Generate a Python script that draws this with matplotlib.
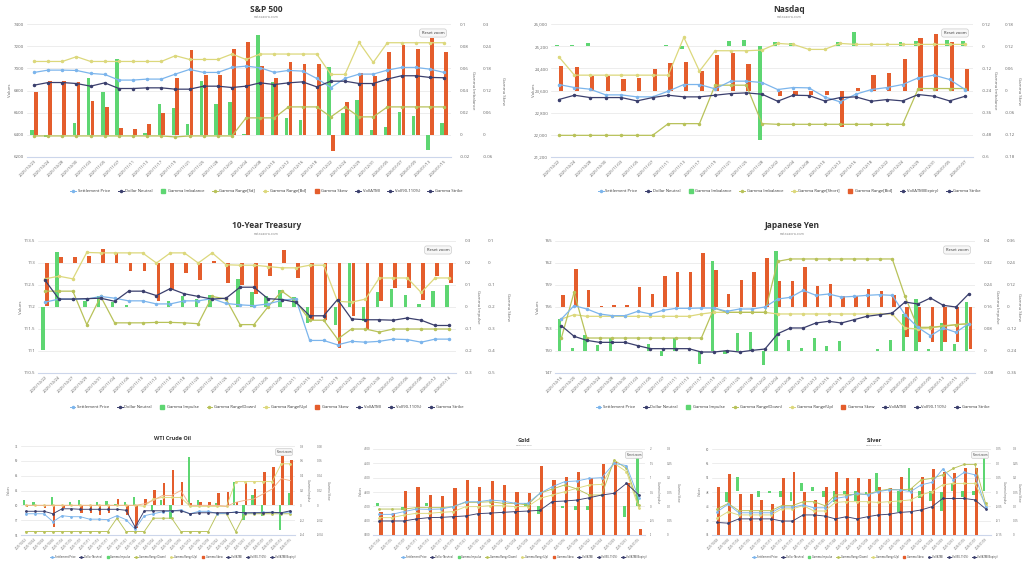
import matplotlib
matplotlib.use("Agg")
import matplotlib.pyplot as plt
import numpy as np
from matplotlib.lines import Line2D

plt.rcParams["font.family"] = ["Open Sans", "DejaVu Sans"]

W, H = 1024, 565

C_SETTLE = "#7cb5ec"
C_DOLLAR = "#3b3f6d"
C_IMB = "#5ed672"
C_SKEW = "#e45d2c"
C_RNG_A = "#b8c25a"
C_RNG_B = "#dcd87c"
C_VOL = "#f3b48a"
C_TXT = "#666666"
C_GRID = "#e6e6e6"

# ---------------- S&P 500 ----------------
SP_DATES = ("2025/10/23 2025/10/24 2025/10/28 2025/10/30 2025/11/03 2025/11/05 2025/11/07 "
            "2025/11/11 2025/11/13 2025/11/17 2025/11/19 2025/11/21 2025/11/25 2025/11/28 "
            "2025/12/02 2025/12/04 2025/12/08 2025/12/10 2025/12/12 2025/12/16 2025/12/18 "
            "2025/12/22 2025/12/24 2025/12/29 2025/12/31 2026/01/05 2026/01/07 2026/01/09 "
            "2026/01/13 2026/01/15").split()
SP_YTICKS = [6200, 6400, 6600, 6800, 7000, 7200, 7400]
SP_IMB_TICKS = [-0.02, 0, 0.02, 0.04, 0.06, 0.08, 0.1]
SP_SKEW_TICKS = [-0.06, 0, 0.06, 0.12, 0.18, 0.24, 0.3]
SP_SETTLE = [6963, 6984, 6984, 6981, 6954, 6945, 6894, 6894, 6903, 6903,
             6948, 6990, 6963, 6963, 7008, 7020, 7005, 6963, 6981, 6975,
             6909, 6827, 6909, 6948, 6948, 6984, 7008, 7008, 6993, 6963]
SP_DOLLAR = [6848, 6872, 6872, 6863, 6839, 6869, 6818, 6818, 6824, 6824,
             6812, 6812, 6839, 6839, 6827, 6839, 6869, 6854, 6869, 6878,
             6833, 6884, 6884, 6863, 6863, 6903, 6933, 6933, 6918, 6915]
SP_RANGE_HI = [7062, 7062, 7062, 7105, 7062, 7062, 7062, 7062, 7062, 7062,
               7114, 7080, 7080, 7080, 7129, 7080, 7129, 7129, 7129, 7129,
               7129, 6945, 6945, 7234, 7053, 7231, 7231, 7231, 7231, 7231]
SP_RANGE_LO = [6390, 6390, 6390, 6390, 6390, 6390, 6390, 6390, 6390, 6390,
               6381, 6390, 6390, 6390, 6390, 6553, 6553, 6553, 6652, 6652,
               6652, 6562, 6652, 6562, 6562, 6652, 6652, 6652, 6652, 6652]
SP_IMB = [0.004, -0.002, 0, 0.011, 0.051, 0.039, 0.068, 0, 0.002, 0.028,
          0.024, 0.010, 0.049, 0.028, 0.030, 0.001, 0.090, 0.048, 0.015, 0.013,
          0, 0.061, 0.020, 0.031, 0.004, 0.007, 0.021, 0.017, -0.014, 0.011]
SP_SKEW = [0.117, 0.147, 0.147, 0.142, 0.091, 0.074, 0.019, 0.017, 0.028, 0.058,
           0.155, 0.230, 0.161, 0.161, 0.232, 0.250, 0.186, 0.155, 0.198, 0.192,
           0.192, -0.044, 0.090, 0.167, 0.158, 0.223, 0.243, 0.232, 0.262, 0.225]
SP_LEGEND = [("Settlement Price", "line", C_SETTLE), ("Dollar Neutral", "line", C_DOLLAR),
             ("Gamma Imbalance", "bar", C_IMB), ("Gamma Range[Sd]", "line", C_RNG_A),
             ("Gamma Range[Bd]", "line", C_RNG_B), ("Gamma Skew", "bar", C_SKEW),
             ("Vol(ATM)", "line", C_DOLLAR), ("Vol(90-110%)", "line", C_DOLLAR),
             ("Gamma Strike", "line", C_DOLLAR)]

# ---------------- Nasdaq ----------------
NQ_DATES = ("2025/10/22 2025/10/24 2025/10/28 2025/10/30 2025/11/03 2025/11/05 2025/11/07 "
            "2025/11/11 2025/11/13 2025/11/17 2025/11/19 2025/11/21 2025/11/25 2025/11/28 "
            "2025/12/02 2025/12/04 2025/12/08 2025/12/10 2025/12/12 2025/12/16 2025/12/18 "
            "2025/12/22 2025/12/24 2025/12/29 2025/12/31 2026/01/05 2026/01/07").split()
NQ_YTICKS = [21200, 22000, 22800, 23600, 24400, 25200, 26000]
NQ_IMB_TICKS = [-0.6, -0.48, -0.36, -0.24, -0.12, 0, 0.12]
NQ_SKEW_TICKS = [-0.18, -0.12, -0.06, 0, 0.06, 0.12, 0.18]
NQ_SETTLE = [23816, 23707, 23647, 23442, 23442, 23370, 23370, 23575, 23816, 23816,
             23659, 23937, 23937, 23888, 23635, 23707, 23695, 23370, 23189, 23466,
             23635, 23707, 23816, 24057, 24154, 23997, 23635]
NQ_DOLLAR = [23273, 23430, 23345, 23345, 23345, 23225, 23345, 23430, 23370, 23370,
             23430, 23490, 23514, 23466, 23213, 23430, 23418, 23225, 23345, 23370,
             23213, 23273, 23225, 23454, 23394, 23225, 23394]
NQ_RANGE_HI = [24817, 24154, 24154, 24154, 24154, 24154, 24154, 24154, 25517, 24298,
               25035, 25035, 25035, 25059, 25300, 25264, 25083, 25083, 25300, 25264,
               25264, 25264, 25264, 25264, 25264, 25264, 25264]
NQ_RANGE_LO = [21982, 21982, 21982, 21982, 21982, 21982, 21982, 22404, 22404, 22404,
               23792, 23792, 23792, 22404, 22380, 22380, 22380, 22380, 22380, 22380,
               22380, 22380, 22380, 23671, 23671, 23671, 23671]
NQ_IMB = [0.008, 0.004, 0.018, 0, 0, 0, 0, 0.008, -0.016, 0.003,
          0, 0.029, 0.036, -0.507, 0.024, 0.018, 0, 0, 0.022, 0.078,
          0, 0, 0.025, 0.027, 0.003, 0.033, 0.027]
NQ_SKEW = [0.065, 0.063, 0.038, 0.038, 0.032, 0.034, 0.059, 0.074, 0.077, 0.053,
           0.095, 0.102, 0.072, 0, -0.016, -0.011, -0.011, -0.011, -0.098, 0.006,
           0.043, 0.047, 0.084, 0.143, 0.154, 0.130, 0.059]
NQ_LEGEND = [("Settlement Price", "line", C_SETTLE), ("Dollar Neutral", "line", C_DOLLAR),
             ("Gamma Imbalance", "bar", C_IMB), ("Gamma Imbalance", "line", C_RNG_A),
             ("Gamma Range[Short]", "line", C_RNG_B), ("Gamma Range[Bid]", "bar", C_SKEW),
             ("Vol(ATM)(Expiry)", "line", C_DOLLAR), ("Gamma Strike", "line", C_DOLLAR)]

# ---------------- 10-Year Treasury ----------------
TY_DATES = ("2025/10/22 2025/10/24 2025/10/27 2025/10/29 2025/10/31 2025/11/04 2025/11/06 "
            "2025/11/10 2025/11/12 2025/11/14 2025/11/18 2025/11/20 2025/11/24 2025/11/26 "
            "2025/12/01 2025/12/03 2025/12/05 2025/12/09 2025/12/11 2025/12/15 2025/12/17 "
            "2025/12/19 2025/12/23 2025/12/26 2025/12/30 2026/01/02 2026/01/06 2026/01/08 "
            "2026/01/12 2026/01/14").split()
TY_YTICKS = [110.5, 111, 111.5, 112, 112.5, 113, 113.5]
TY_IMB_TICKS = [-0.3, -0.2, -0.1, 0, 0.1, 0.2, 0.3]
TY_SKEW_TICKS = [-0.5, -0.4, -0.3, -0.2, -0.1, 0, 0.1]
TY_SETTLE = [112.11, 112.18, 112.18, 112.18, 112.24, 112.20, 112.14, 112.14, 112.07, 112.07,
             112.14, 112.14, 112.19, 112.08, 112.05, 112.03, 112.07, 112.15, 112.19, 111.24,
             111.24, 111.14, 111.22, 111.20, 111.22, 111.27, 111.26, 111.20, 111.27, 111.27]
TY_DOLLAR = [112.61, 112.18, 112.18, 112.19, 112.20, 112.13, 112.36, 112.36, 112.26, 112.42,
             112.30, 112.24, 112.18, 112.20, 112.45, 112.45, 112.19, 112.17, 112.11, 111.80,
             111.80, 112.17, 111.73, 111.71, 111.71, 111.70, 111.75, 111.70, 111.58, 111.58]
TY_RANGE_UP = [112.64, 112.70, 112.64, 113.24, 113.23, 113.23, 113.23, 113.23, 113.00, 113.23,
               113.23, 113.00, 113.23, 112.96, 112.95, 112.95, 112.92, 112.89, 112.89, 112.95,
               112.95, 112.13, 112.11, 112.18, 112.66, 112.66, 112.66, 112.33, 112.66, 112.66]
TY_RANGE_DOWN = [112.36, 112.36, 112.36, 111.60, 112.24, 111.64, 111.64, 111.64, 111.65, 111.65,
                 111.64, 111.62, 112.24, 112.18, 111.60, 111.60, 112.00, 112.36, 112.13, 111.70,
                 111.70, 111.27, 111.50, 111.50, 111.43, 111.50, 111.50, 111.50, 111.50, 111.50]
TY_IMB = [-0.197, 0.25, 0, 0.029, 0.052, 0.021, 0.011, 0, 0, 0.029,
          0.048, 0.038, 0.056, 0, 0.129, 0.067, 0.048, 0.076, 0.045, -0.073,
          0, -0.080, 0.200, -0.065, 0.067, 0.082, 0.056, 0.015, 0.071, 0.102]
TY_SKEW = [-0.194, 0.027, 0.027, 0.030, 0.065, 0.045, -0.038, -0.038, -0.171, -0.118,
           -0.045, -0.079, 0.011, -0.091, -0.102, -0.141, -0.061, 0.058, -0.068, -0.258,
           -0.261, -0.386, -0.239, -0.303, -0.174, -0.114, -0.114, -0.170, -0.061, -0.091]
STD_LEGEND = [("Settlement Price", "line", C_SETTLE), ("Dollar Neutral", "line", C_DOLLAR),
              ("Gamma Impulse", "bar", C_IMB), ("Gamma Range(Down)", "line", C_RNG_A),
              ("Gamma Range(Up)", "line", C_RNG_B), ("Gamma Skew", "bar", C_SKEW),
              ("Vol(ATM)", "line", C_DOLLAR), ("Vol(90-110%)", "line", C_DOLLAR),
              ("Gamma Strike", "line", C_DOLLAR)]

# ---------------- Japanese Yen ----------------
JY_DATES = ("2025/10/16 2025/10/20 2025/10/22 2025/10/24 2025/10/28 2025/10/30 2025/11/03 "
            "2025/11/05 2025/11/07 2025/11/11 2025/11/13 2025/11/17 2025/11/19 2025/11/21 "
            "2025/11/25 2025/11/28 2025/12/02 2025/12/04 2025/12/08 2025/12/10 2025/12/12 "
            "2025/12/16 2025/12/18 2025/12/22 2025/12/24 2025/12/29 2025/12/31 2026/01/05 "
            "2026/01/07 2026/01/09 2026/01/13 2026/01/15 2026/01/20").split()
JY_YTICKS = [147, 150, 153, 156, 159, 162, 165]
JY_IMB_TICKS = [-0.08, 0, 0.08, 0.16, 0.24, 0.32, 0.4]
JY_SKEW_TICKS = [-0.36, -0.24, -0.12, 0, 0.12, 0.24, 0.36]
JY_SETTLE = [154.36, 156.18, 155.73, 155.05, 154.82, 154.82, 155.41, 155.05, 155.55, 155.82,
             155.82, 155.86, 155.86, 155.41, 155.73, 155.73, 156.00, 157.09, 157.32, 158.27,
             157.59, 157.77, 157.36, 157.45, 157.59, 157.68, 157.59, 154.95, 153.23, 152.09,
             153.14, 152.55, 153.73]
JY_DOLLAR = [153.45, 152.00, 151.45, 151.18, 151.18, 151.18, 150.73, 150.32, 150.32, 150.32,
             150.32, 149.86, 149.86, 150.05, 149.86, 150.09, 150.27, 152.36, 153.14, 153.14,
             153.82, 154.05, 153.82, 154.27, 154.73, 154.95, 155.18, 156.68, 156.41, 157.23,
             156.23, 156.00, 157.77]
JY_RANGE_A = [151.77, 158.0, 151.77, 151.77, 151.77, 151.77, 151.77, 151.77, 151.77, 151.77,
              151.77, 151.77, 155.86, 155.27, 155.27, 155.27, 155.27, 162.23, 162.55, 162.55,
              162.55, 162.55, 162.55, 162.55, 162.55, 162.55, 162.55, 157.45, 153.23, 153.23,
              153.36, 153.59, 153.73]
JY_RANGE_B = [154.36, 154.95, 154.73, 154.73, 154.73, 154.73, 154.73, 154.73, 154.73, 154.73,
              154.73, 155.05, 155.27, 155.27, 155.27, 155.27, 155.27, 155.05, 155.05, 155.05,
              155.05, 155.05, 155.05, 155.05, 155.05, 155.05, 155.05, 153.14, 153.0, 153.14,
              153.45, 153.59, 153.73]
JY_IMB = [0.116, 0.011, 0.057, 0.023, 0.047, 0, 0, 0.027, -0.019, 0.047,
          0, -0.046, 0.326, -0.010, 0.065, 0.069, -0.050, 0.365, 0.041, 0.011,
          0.047, 0.017, 0.035, 0, 0.001, 0.007, 0.039, 0.136, 0.189, 0.007,
          0.102, 0.027, 0.177]
JY_SKEW = [0.067, 0.207, 0.095, 0.004, 0.011, 0.011, 0.107, 0.071, 0.167, 0.191,
           0.191, 0.295, 0.204, 0.071, 0.149, 0.191, 0.267, 0.144, 0.140, 0.216,
           0.113, 0.125, 0.058, 0.058, 0.098, 0.085, 0.067, -0.164, -0.193, -0.193,
           -0.193, -0.193, -0.229]

# ---------------- WTI Crude Oil ----------------
CL_DATES = ("2025/10/23 2025/10/24 2025/10/28 2025/10/30 2025/11/03 2025/11/05 2025/11/07 "
            "2025/11/11 2025/11/13 2025/11/17 2025/11/19 2025/11/21 2025/11/25 2025/11/28 "
            "2025/12/02 2025/12/04 2025/12/08 2025/12/10 2025/12/12 2025/12/16 2025/12/18 "
            "2025/12/22 2025/12/24 2025/12/29 2025/12/31 2026/01/05 2026/01/07 2026/01/09 "
            "2026/01/13 2026/01/15").split()
CL_YTICKS = [54, 57, 60, 63, 66, 69, 72]
CL_IMB_TICKS = [-0.4, -0.2, 0, 0.2, 0.4, 0.6, 0.8]
CL_SKEW_TICKS = [-0.04, -0.02, 0, 0.02, 0.04, 0.06, 0.08]
CL_SETTLE = [58.3, 58.3, 58.3, 56.7, 57.9, 57.7, 57.7, 57.2, 57.2, 57.1,
             57.9, 57.1, 55.2, 57.9, 58.3, 58.7, 58.8, 59.1, 58.3, 58.8,
             58.8, 58.3, 58.4, 58.7, 58.4, 58.5, 58.6, 58.6, 58.4, 58.7]
CL_DOLLAR = [58.8, 58.8, 58.8, 58.3, 59.3, 59.3, 59.2, 59.2, 59.2, 59.2,
             59.2, 59.0, 55.6, 58.9, 58.9, 58.9, 58.9, 58.9, 58.3, 58.5,
             58.5, 58.5, 58.5, 58.6, 58.5, 58.5, 58.5, 58.6, 58.5, 58.9]
CL_RANGE_LO = [54.7, 54.7, 54.7, 54.7, 54.7, 54.7, 54.7, 54.7, 54.7, 54.7,
               57.4, 54.7, 54.7, 54.7, 57.4, 57.4, 57.4, 54.7, 54.7, 54.7,
               54.7, 58.3, 58.3, 54.7, 58.3, 58.3, 58.3, 58.3, 58.3, 58.3]
CL_RANGE_HI = [60.0, 60.0, 60.0, 60.0, 60.0, 60.0, 60.0, 60.0, 60.0, 60.0,
               60.0, 60.0, 60.0, 59.8, 61.3, 61.6, 61.6, 61.6, 59.8, 59.8,
               59.8, 59.8, 59.8, 64.8, 64.8, 64.8, 64.8, 64.8, 68.4, 68.4]
CL_VOL = [60.0, 60.0, 60.0, 60.0, 60.0, 60.0, 60.0, 60.0, 60.0, 60.0,
          60.0, 60.0, 60.0, 60.3, 61.0, 62.0, 62.0, 63.0, 60.0, 60.0,
          60.0, 60.0, 59.8, 60.6, 61.0, 61.3, 62.3, 63.3, 65.4, 65.0]
CL_IMB = [0.07, 0.05, 0, 0.11, 0, 0.04, 0.07, 0, 0.04, 0.06,
          0.02, 0.04, 0.11, 0, -0.07, 0.07, -0.19, 0, 0.65, 0.07,
          0, 0.03, 0, 0.32, -0.20, 0.14, -0.15, 0, -0.33, 0.17]
CL_SKEW = [-0.002, 0, -0.003, -0.029, -0.003, 0, -0.011, -0.011, -0.013, -0.010,
           0.009, -0.013, -0.031, 0.008, 0.021, 0.030, 0.047, 0.031, 0.003, 0.005,
           0.005, 0.017, 0.018, 0.005, 0.030, 0.022, 0.045, 0.052, 0.067, 0.061]
SMALL_LEGEND = [("Settlement Price", "line", C_SETTLE), ("Dollar Neutral", "line", C_DOLLAR),
                ("Gamma Impulse", "bar", C_IMB), ("Gamma Range(Down)", "line", C_RNG_A),
                ("Gamma Range(Up)", "line", C_RNG_B), ("Gamma Skew", "bar", C_SKEW),
                ("Vol(ATM)", "line", C_DOLLAR), ("Vol(90-110%)", "line", C_DOLLAR),
                ("Vol(ATM)(Expiry)", "line", C_DOLLAR)]

# ---------------- Gold ----------------
GC_DATES = ("2025/11/03 2025/11/05 2025/11/07 2025/11/11 2025/11/13 2025/11/17 2025/11/19 "
            "2025/11/21 2025/11/25 2025/11/28 2025/12/02 2025/12/04 2025/12/08 2025/12/10 "
            "2025/12/12 2025/12/16 2025/12/18 2025/12/22 2025/12/24 2025/12/29 2025/12/31 "
            "2026/01/05").split()
GC_YTICKS = [3900, 4000, 4100, 4200, 4300, 4400, 4500]
GC_IMB_TICKS = [-1, -0.5, 0, 0.5, 1, 1.5, 2]
GC_SKEW_TICKS = [0, 0.05, 0.1, 0.15, 0.2, 0.25, 0.3]
GC_SETTLE = [4044, 4044, 4063, 4081, 4079, 4081, 4098, 4132, 4132, 4144, 4137,
             4121, 4121, 4191, 4237, 4272, 4277, 4295, 4300, 4400, 4384, 4156]
GC_DOLLAR = [3998, 3998, 3998, 4012, 4021, 4023, 4028, 4033, 4049, 4053, 4058,
             4063, 4067, 4072, 4133, 4137, 4144, 4160, 4179, 4191, 4260, 4179]
GC_RANGE_HI = [4081, 4081, 4081, 4091, 4091, 4091, 4098, 4128, 4128, 4132, 4121,
               4121, 4109, 4191, 4221, 4249, 4221, 4179, 4179, 4423, 4365, 4109]
GC_RANGE_LO = [4021, 4021, 4039, 4051, 4051, 4058, 4063, 4098, 4098, 4105, 4105,
               4098, 4098, 4156, 4179, 4202, 4226, 4249, 4253, 4400, 4342, 4086]
GC_IMB_LO = [0.01, 0, -0.13, 0, 0.01, 0, 0, 0, 0, 0, 0,
             0, 0.01, -0.25, 0, -0.07, -0.13, -0.13, 0, 0, -0.38, 0.0]
GC_IMB_HI = [0.13, 0, -0.02, 0, 0.13, 0, 0, 0, 0, 0, 0,
             0, 0.13, 0.01, 0, 0.01, 0.01, 0.01, 0, 0, 0.01, 1.74]
GC_SKEW = [0.081, 0.077, 0.155, 0.167, 0.140, 0.135, 0.164, 0.193, 0.169, 0.188, 0.176,
           0.149, 0.148, 0.240, 0.193, 0.202, 0.220, 0.200, 0.246, 0.256, 0.181, 0.021]

# ---------------- Silver ----------------
SI_DATES = ("2025/10/28 2025/10/30 2025/11/03 2025/11/05 2025/11/07 2025/11/11 2025/11/13 "
            "2025/11/17 2025/11/19 2025/11/21 2025/11/25 2025/11/28 2025/12/02 2025/12/04 "
            "2025/12/08 2025/12/10 2025/12/12 2025/12/16 2025/12/18 2025/12/22 2025/12/24 "
            "2025/12/29 2025/12/31 2026/01/05 2026/01/07 2026/01/09").split()
SI_YTICKS = [36, 40, 44, 48, 52, 56, 60]
SI_IMB_TICKS = [-0.15, -0.1, -0.05, 0, 0.05, 0.1, 0.15]
SI_SKEW_TICKS = [0, 0.05, 0.1, 0.15, 0.2, 0.25, 0.3]
SI_SETTLE = [42.5, 44.6, 42.2, 42.2, 42.2, 42.2, 43.8, 43.8, 44.4, 43.6, 43.6, 46.2, 46.7,
             47.6, 47.2, 48.1, 48.6, 48.6, 48.1, 50.0, 50.7, 54.4, 51.4, 53.5, 52.8, 43.9]
SI_DOLLAR = [39.5, 39.3, 40.5, 40.5, 40.5, 40.5, 39.9, 39.9, 41.6, 41.6, 41.3, 40.5, 41.1,
             40.5, 41.1, 41.6, 41.8, 42.3, 42.5, 43.0, 43.9, 46.2, 46.2, 46.2, 45.8, 43.3]
SI_RANGE_HI = [43.3, 44.8, 42.8, 42.8, 42.8, 42.8, 44.2, 44.2, 45.3, 45.3, 44.2, 47.2, 47.2,
               47.4, 47.4, 48.3, 48.8, 48.6, 48.8, 51.4, 51.8, 52.8, 54.6, 55.7, 55.7, 44.8]
SI_RANGE_LO = [40.7, 42.5, 41.6, 41.6, 41.6, 41.6, 43.3, 43.3, 44.2, 42.7, 42.7, 45.1, 45.3,
               45.3, 45.3, 45.1, 45.3, 45.5, 45.8, 47.2, 48.1, 50.0, 50.4, 50.4, 50.4, 44.4]
SI_IMB_LO = [0, -0.036, 0.002, 0, -0.016, -0.005, -0.019, -0.030, 0.002, 0.002, -0.016, -0.034, -0.007,
             -0.030, -0.007, 0.002, 0, -0.069, 0.002, -0.022, -0.030, -0.067, 0.002, -0.019, -0.009, 0.002]
SI_IMB_HI = [0, -0.001, 0.053, 0, 0.002, 0.002, 0.002, 0.001, 0.030, 0.016, 0.002, 0.002, 0.002,
             0.002, -0.001, 0.066, 0, 0.002, 0.083, 0.002, 0.002, -0.001, 0.030, 0.002, 0.002, 0.121]
SI_SKEW = [0.169, 0.212, 0.142, 0.142, 0.122, 0.107, 0.198, 0.219, 0.149, 0.122, 0.169, 0.219, 0.200,
           0.200, 0.194, 0.166, 0.165, 0.204, 0.165, 0.204, 0.230, 0.221, 0.215, 0.233, 0.233, 0]


fig = plt.figure(figsize=(W / 100, H / 100), dpi=100)
fig.patch.set_facecolor("white")


def draw_panel(rect, dates, yticks, imb_ticks, skew_ticks, settle, dollar, rng_a, rng_b,
               imb, skew, title, subtitle, legend, imb_name, big=True,
               imb_low=None, vol=None, yfmt="{:g}", title_dx=0):
    l, t, r, b = rect
    n = len(dates)
    x = np.arange(n)
    fs_tick = 3.2 if big else 2.1
    fs_x = 3.1 if big else 2.1
    fs_title = 6.0 if big else 4.0
    fs_leg = 3.0 if big else 1.9
    pad1 = 9 if big else 5
    pad2 = 32 if big else 22
    ms = 1.5 if big else 1.0
    lw = 0.9 if big else 0.65

    ax = fig.add_axes([l / W, 1 - b / H, (r - l) / W, (b - t) / H])
    axg = ax.twinx()
    axs = ax.twinx()
    axl = ax.twinx()
    for a in (ax, axg, axs, axl):
        for s in a.spines.values():
            s.set_visible(False)
    ax.set_xlim(-0.5, n - 0.5)
    ax.spines["bottom"].set_visible(True)
    ax.spines["bottom"].set_color("#ccd6eb")
    ax.spines["bottom"].set_linewidth(0.8)

    ax.set_ylim(yticks[0], yticks[-1])
    ax.set_yticks(yticks)
    ax.set_yticklabels([yfmt.format(v) for v in yticks])
    ax.grid(axis="y", color=C_GRID, lw=0.5)
    ax.set_axisbelow(True)
    ax.tick_params(axis="y", length=0, labelsize=fs_tick, labelcolor=C_TXT, pad=2)
    ax.set_xticks(x)
    ax.set_xticklabels(dates, rotation=45, ha="right", rotation_mode="anchor",
                       fontsize=fs_x, color=C_TXT)
    ax.tick_params(axis="x", length=0, pad=1.5)

    axg.set_ylim(imb_ticks[0], imb_ticks[-1])
    axg.set_yticks(imb_ticks)
    axg.set_yticklabels(["{:g}".format(v) for v in imb_ticks])
    axg.tick_params(axis="y", length=0, labelsize=fs_tick, labelcolor=C_TXT, pad=pad1 * 0.72)

    axs.set_ylim(skew_ticks[0], skew_ticks[-1])
    axs.set_yticks(skew_ticks)
    axs.set_yticklabels(["{:g}".format(v) for v in skew_ticks])
    axs.spines["right"].set_position(("outward", (pad2 - pad1) * 0.72))
    axs.tick_params(axis="y", length=0, labelsize=fs_tick, labelcolor=C_TXT, pad=pad1 * 0.72)

    axl.set_ylim(yticks[0], yticks[-1])
    axl.set_yticks([])

    lo = np.zeros(n) if imb_low is None else np.array(imb_low, dtype=float)
    axg.bar(x - 0.14, np.array(imb, dtype=float) - lo, 0.25, bottom=lo, color=C_IMB, lw=0)
    axs.bar(x + 0.14, skew, 0.27, color=C_SKEW, lw=0)

    axl.plot(x, rng_b, color=C_RNG_B, lw=lw, marker="o", ms=ms)
    axl.plot(x, rng_a, color=C_RNG_A, lw=lw, marker="o", ms=ms)
    if vol is not None:
        axl.plot(x, vol, color=C_VOL, lw=lw)
    axl.plot(x, settle, color=C_SETTLE, lw=lw, marker="o", ms=ms)
    axl.plot(x, dollar, color=C_DOLLAR, lw=lw, marker="o", ms=ms)

    # titles and axis names
    cx = (l + r + (55 if big else 30)) / 2 + title_dx
    if big:
        fig.text(cx / W, 1 - (t - 15) / H, title, ha="center", va="center",
                 fontsize=fs_title, fontweight="bold", color="#333333")
        fig.text(cx / W, 1 - (t - 7) / H, subtitle, ha="center", va="center",
                 fontsize=2.6, color="#888888")
    else:
        fig.text(cx / W, 1 - (t - 8) / H, title, ha="center", va="center",
                 fontsize=fs_title, fontweight="bold", color="#333333")
        if subtitle:
            fig.text(cx / W, 1 - (t - 3) / H, subtitle, ha="center", va="center",
                     fontsize=1.7, color="#888888")
    name_x = [l - (17 if big else 12), r + (22 if big else 13),
              min(r + (52 if big else 33), W - 5)]
    cy = 1 - (t + b) / 2 / H
    fig.text(name_x[0] / W, cy, "Values", rotation=90, ha="center", va="center",
             fontsize=fs_tick, color=C_TXT)
    fig.text(name_x[1] / W, cy, imb_name, rotation=270, ha="center", va="center",
             fontsize=fs_tick, color=C_TXT)
    fig.text(name_x[2] / W, cy, "Gamma Skew", rotation=270, ha="center", va="center",
             fontsize=fs_tick, color=C_TXT)

    # reset zoom button
    bx, by = (r - 18, t + 9) if big else (r - 11, t + 6)
    fig.text(bx / W, 1 - by / H, "Reset zoom", ha="center", va="center",
             fontsize=3.0 if big else 1.9, color="#333333",
             bbox=dict(boxstyle="round,pad=0.5", fc="#f7f7f7", ec="#cccccc", lw=0.5))

    # legend
    handles = []
    for label, kind, color in legend:
        if kind == "bar":
            handles.append(Line2D([0], [0], color=color, lw=0, marker="s", ms=3 if big else 2))
        else:
            handles.append(Line2D([0], [0], color=color, lw=0.7, marker="o", ms=1.5 if big else 1))
    ly = b + (34 if big else 22)
    fig.legend(handles, [it[0] for it in legend], loc="center",
               bbox_to_anchor=(cx / W, 1 - ly / H), ncol=len(handles), frameon=False,
               fontsize=fs_leg, handlelength=1.4, handletextpad=0.4,
               columnspacing=1.8 if big else 1.4, labelcolor="#333333")


draw_panel((27, 24, 451, 157), SP_DATES, SP_YTICKS, SP_IMB_TICKS, SP_SKEW_TICKS,
           SP_SETTLE, SP_DOLLAR, SP_RANGE_LO, SP_RANGE_HI, SP_IMB, SP_SKEW,
           "S&P 500", "natasaora.com", SP_LEGEND, "Gamma Imbalance")
draw_panel((551, 24, 973, 157), NQ_DATES, NQ_YTICKS, NQ_IMB_TICKS, NQ_SKEW_TICKS,
           NQ_SETTLE, NQ_DOLLAR, NQ_RANGE_LO, NQ_RANGE_HI, NQ_IMB, NQ_SKEW,
           "Nasdaq", "natasaora.com", NQ_LEGEND, "Gamma Imbalance", yfmt="{:,}")
draw_panel((38, 241, 456, 373), TY_DATES, TY_YTICKS, TY_IMB_TICKS, TY_SKEW_TICKS,
           TY_SETTLE, TY_DOLLAR, TY_RANGE_DOWN, TY_RANGE_UP, TY_IMB, TY_SKEW,
           "10-Year Treasury", "natasaora.com", STD_LEGEND, "Gamma Impulse", title_dx=-8)
draw_panel((555, 241, 975, 373), JY_DATES, JY_YTICKS, JY_IMB_TICKS, JY_SKEW_TICKS,
           JY_SETTLE, JY_DOLLAR, JY_RANGE_A, JY_RANGE_B, JY_IMB, JY_SKEW,
           "Japanese Yen", "natasaora.com", STD_LEGEND, "Gamma Impulse")
draw_panel((21, 446, 295, 535), CL_DATES, CL_YTICKS, CL_IMB_TICKS, CL_SKEW_TICKS,
           CL_SETTLE, CL_DOLLAR, CL_RANGE_LO, CL_RANGE_HI, CL_IMB, CL_SKEW,
           "WTI Crude Oil", "", SMALL_LEGEND, "Gamma Impulse", big=False, vol=CL_VOL)
draw_panel((373, 449, 645, 535), GC_DATES, GC_YTICKS, GC_IMB_TICKS, GC_SKEW_TICKS,
           GC_SETTLE, GC_DOLLAR, GC_RANGE_HI, GC_RANGE_LO, GC_IMB_HI, GC_SKEW,
           "Gold", "natasaora.com", SMALL_LEGEND, "Gamma Impulse", big=False,
           imb_low=GC_IMB_LO)
draw_panel((712, 449, 991, 535), SI_DATES, SI_YTICKS, SI_IMB_TICKS, SI_SKEW_TICKS,
           SI_SETTLE, SI_DOLLAR, SI_RANGE_HI, SI_RANGE_LO, SI_IMB_HI, SI_SKEW,
           "Silver", "natasaora.com", SMALL_LEGEND, "Gamma Impulse", big=False,
           imb_low=SI_IMB_LO, title_dx=8)

fig.savefig("out.png", dpi=100)
